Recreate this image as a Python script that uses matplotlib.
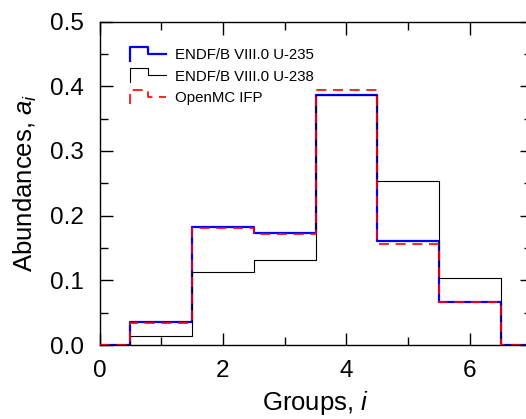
import matplotlib
matplotlib.use("Agg")
import matplotlib.pyplot as plt
from matplotlib.lines import Line2D
from matplotlib.legend_handler import HandlerBase
from matplotlib.ticker import MultipleLocator

plt.rcParams['font.family'] = ['Liberation Sans', 'DejaVu Sans']
plt.rcParams['mathtext.fontset'] = 'custom'
plt.rcParams['mathtext.rm'] = 'Liberation Sans'
plt.rcParams['mathtext.it'] = 'Liberation Sans:italic'

groups = [0, 1, 2, 3, 4, 5, 6, 7]
u235 = [0, 0.036, 0.182, 0.173, 0.387, 0.160, 0.067, 0]
u238 = [0, 0.014, 0.113, 0.131, 0.387, 0.254, 0.103, 0]
ifp = [0, 0.034, 0.181, 0.172, 0.394, 0.156, 0.066, 0]
labels = ["ENDF/B VIII.0 U-235", "ENDF/B VIII.0 U-238", "OpenMC IFP"]


class StepHandler(HandlerBase):
    def create_artists(self, legend, orig_handle, xdescent, ydescent,
                       width, height, fontsize, trans):
        c = height / 2.0 - ydescent
        a = 0.67 * height
        x0 = -xdescent
        xs = [x0, x0, x0 + 0.5 * width, x0 + 0.5 * width, x0 + width]
        ys = [c - a, c + a, c + a, c, c]
        line = Line2D(xs, ys)
        self.update_prop(line, orig_handle, legend)
        line.set_transform(trans)
        return [line]


fig = plt.figure(figsize=(5.26, 4.19), dpi=100)
ax = fig.add_axes([0.1892, 0.1766, 0.8213, 0.772])

l1, = ax.plot(groups, u235, drawstyle='steps-mid', color='#0000ff', lw=1.6, zorder=2)
l2, = ax.plot(groups, u238, drawstyle='steps-mid', color='black', lw=0.8, zorder=3)
l3, = ax.plot(groups, ifp, drawstyle='steps-mid', color='#ff0000', lw=1.2,
              dashes=(6, 4), zorder=4)

ax.set_xlim(0, 7)
ax.set_ylim(0, 0.5)
ax.xaxis.set_major_locator(MultipleLocator(2))
ax.xaxis.set_minor_locator(MultipleLocator(1))
ax.yaxis.set_major_locator(MultipleLocator(0.1))
ax.yaxis.set_minor_locator(MultipleLocator(0.05))
ax.yaxis.set_major_formatter(matplotlib.ticker.FormatStrFormatter('%.1f'))
ax.tick_params(which='both', direction='in', top=True, right=True,
               labelsize=17.5, pad=11, width=1.0)
ax.tick_params(which='major', length=9)
ax.tick_params(which='minor', length=5.5)
for s in ax.spines.values():
    s.set_linewidth(1.0)

ax.set_xlabel("Groups, $i$", fontsize=18.5, labelpad=5)
ax.set_ylabel("Abundances, $a_i$", fontsize=18.5, labelpad=8)

ax.legend([l1, l2, l3], labels, handler_map={Line2D: StepHandler()},
          loc='upper left', bbox_to_anchor=(0.07, 0.918), frameon=False,
          fontsize=10.8, borderpad=0, borderaxespad=0, handlelength=2.4,
          handletextpad=0.6, labelspacing=0.5)

fig.savefig("out.png", dpi=100)
